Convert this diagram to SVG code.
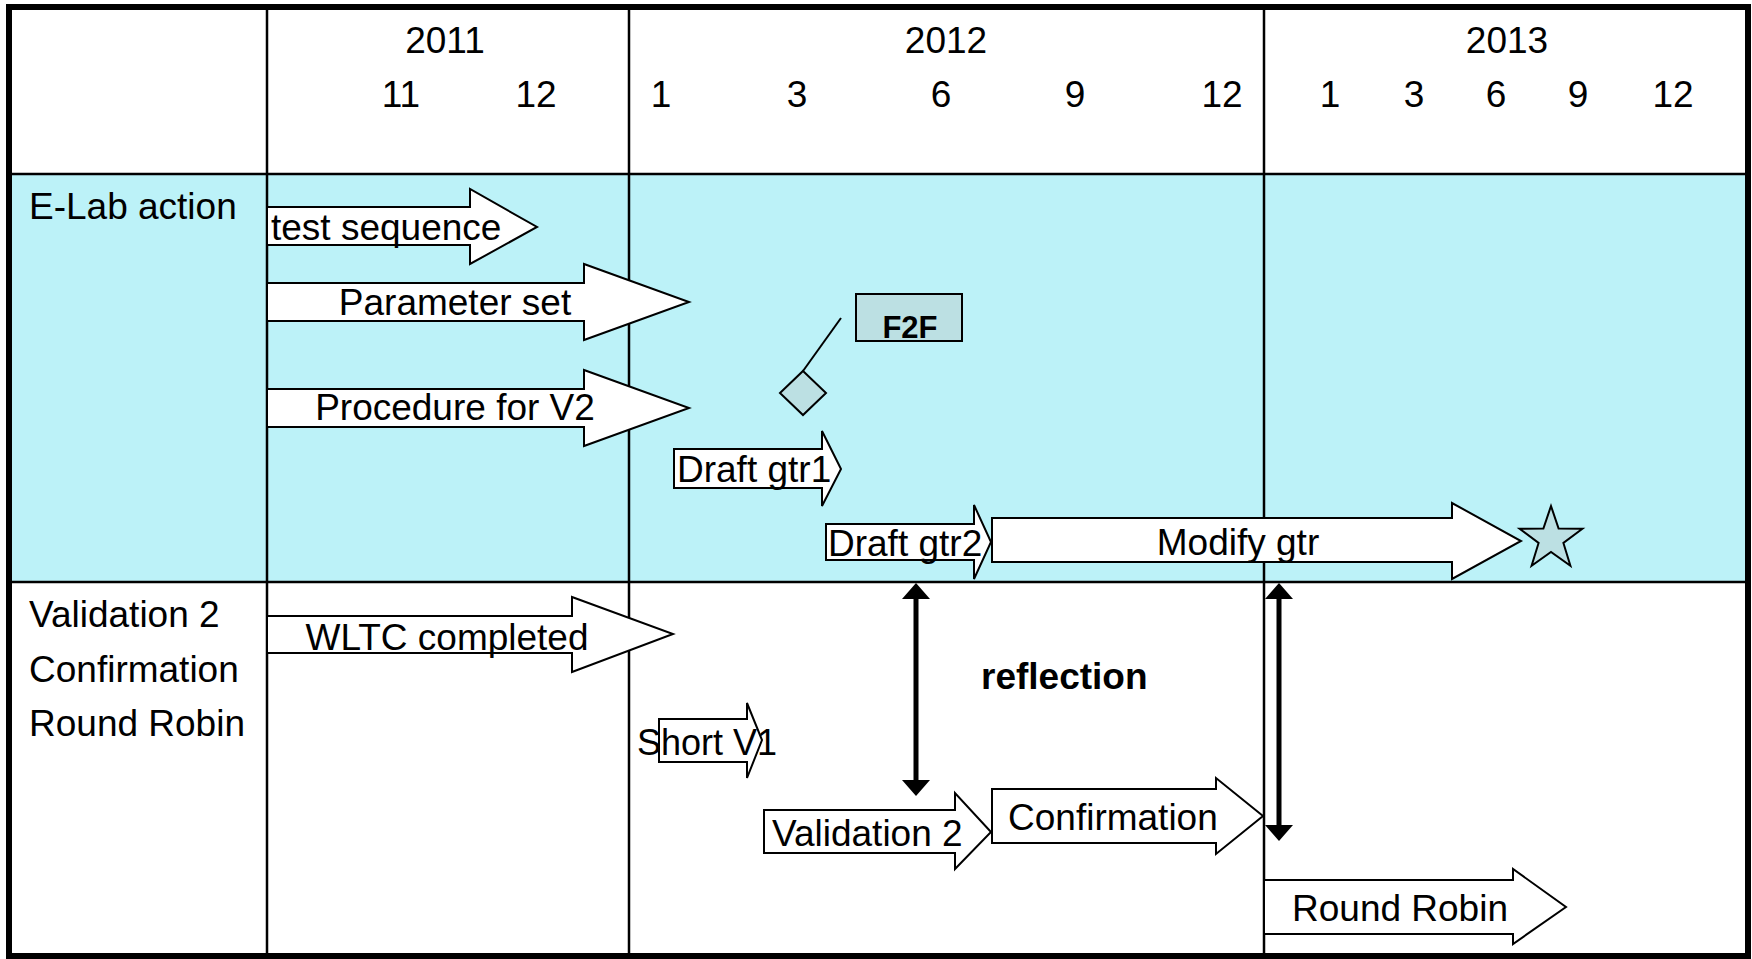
<svg xmlns="http://www.w3.org/2000/svg" width="1752" height="959" viewBox="0 0 1752 959">
<style>
text{font-family:"Liberation Sans",Arial,sans-serif;font-size:37px;fill:#000}
.b{font-weight:bold}
.m{text-anchor:middle}
.blk{fill:#fff;stroke:#000;stroke-width:2}
.grid{stroke:#000;stroke-width:2.5;fill:none}
.mile{fill:#BCE0E3;stroke:#000;stroke-width:2}
</style>
<defs>
<marker id="ah" viewBox="0 -14 16 28" markerUnits="userSpaceOnUse" markerWidth="16" markerHeight="28" refX="0" refY="0" orient="auto-start-reverse">
<path d="M0,-14 L16,0 L0,14 z" fill="#000"/>
</marker>
</defs>
<rect x="0" y="0" width="1752" height="959" fill="#fff"/>
<g id="grid">
<rect x="9" y="174" width="1739" height="408" fill="#BCF2F8"/>
<line class="grid" x1="267" y1="7" x2="267" y2="956"/>
<line class="grid" x1="629" y1="7" x2="629" y2="956"/>
<line class="grid" x1="1264" y1="7" x2="1264" y2="956"/>
<line class="grid" x1="9" y1="174" x2="1748" y2="174" stroke-width="3"/>
<line class="grid" x1="9" y1="582" x2="1748" y2="582"/>
<rect x="9" y="7" width="1739" height="949" fill="none" stroke="#000" stroke-width="6"/>
</g>
<g id="header">
<text class="m" x="445" y="53">2011</text>
<text class="m" x="946" y="53">2012</text>
<text class="m" x="1507" y="53">2013</text>
<text class="m" x="401" y="107">11</text>
<text class="m" x="536" y="107">12</text>
<text class="m" x="661" y="107">1</text>
<text class="m" x="797" y="107">3</text>
<text class="m" x="941" y="107">6</text>
<text class="m" x="1075" y="107">9</text>
<text class="m" x="1222" y="107">12</text>
<text class="m" x="1330" y="107">1</text>
<text class="m" x="1414" y="107">3</text>
<text class="m" x="1496" y="107">6</text>
<text class="m" x="1578" y="107">9</text>
<text class="m" x="1673" y="107">12</text>
</g>
<g id="row-labels">
<text x="29" y="219">E-Lab action</text>
<text x="29" y="627">Validation 2</text>
<text x="29" y="682">Confirmation</text>
<text x="29" y="736">Round Robin</text>
</g>
<g id="test-sequence">
<polygon class="blk" points="267,207 470,207 470,189 537,227 470,264 470,245 267,245"/>
<text x="271" y="240">test sequence</text>
</g>
<g id="parameter-set">
<polygon class="blk" points="267,283 584,283 584,264 689,302 584,340 584,321 267,321"/>
<text class="m" x="455" y="315">Parameter set</text>
</g>
<g id="procedure-v2">
<polygon class="blk" points="267,389 584,389 584,370 689,408 584,446 584,427 267,427"/>
<text class="m" x="455" y="420">Procedure for V2</text>
</g>
<g id="f2f">
<rect class="mile" x="856" y="294" width="106" height="47"/>
<text class="b m" x="910" y="338" style="font-size:31px">F2F</text>
</g>
<g id="f2f-milestone">
<polygon class="mile" points="803,371 826,393 803,415 780,393"/>
</g>
<g id="draft-gtr1">
<polygon class="blk" points="674,449 822,449 822,431 841,469 822,506 822,488 674,488"/>
<text x="677" y="482">Draft gtr1</text>
</g>
<g id="draft-gtr2">
<polygon class="blk" points="826,524 974,524 974,505 991,542 974,579 974,560 826,560"/>
<text x="828" y="556">Draft gtr2</text>
</g>
<g id="modify-gtr">
<polygon class="blk" points="992,518 1452,518 1452,503 1521,541 1452,579 1452,562 992,562"/>
<text class="m" x="1238" y="555">Modify gtr</text>
</g>
<g id="star">
<polygon class="mile" points="1551,506 1558.6,528.5 1582.4,528.8 1563.4,543 1570.4,565.7 1551,552 1531.6,565.7 1538.6,543 1519.6,528.8 1543.4,528.5"/>
</g>
<g id="wltc">
<polygon class="blk" points="267,616 572,616 572,597 673,634 572,672 572,653 267,653"/>
<text class="m" x="447" y="650">WLTC completed</text>
</g>
<g id="short-v1">
<polygon class="blk" points="659,719 747,719 747,703 762,740 747,778 747,762 659,762"/>
<text x="637" y="755" style="font-size:36px">Short V1</text>
</g>
<g id="validation2">
<polygon class="blk" points="764,810 955,810 955,793 991,832 955,869 955,853 764,853"/>
<text x="772" y="846">Validation 2</text>
</g>
<g id="confirmation">
<polygon class="blk" points="992,789 1216,789 1216,778 1263,816 1216,854 1216,843 992,843"/>
<text x="1008" y="830">Confirmation</text>
</g>
<g id="round-robin">
<polygon class="blk" points="1264,880 1513,880 1513,869 1566,907 1513,944 1513,934 1264,934"/>
<text x="1292" y="921">Round Robin</text>
</g>
<text id="reflection" class="b" x="981" y="689">reflection</text>
<g id="connectors">
<line x1="841" y1="318" x2="803" y2="371" stroke="#000" stroke-width="2"/>
<line x1="916" y1="599" x2="916" y2="780" stroke="#000" stroke-width="5" marker-start="url(#ah)" marker-end="url(#ah)"/>
<line x1="1279" y1="599" x2="1279" y2="825" stroke="#000" stroke-width="5" marker-start="url(#ah)" marker-end="url(#ah)"/>
</g>
</svg>
